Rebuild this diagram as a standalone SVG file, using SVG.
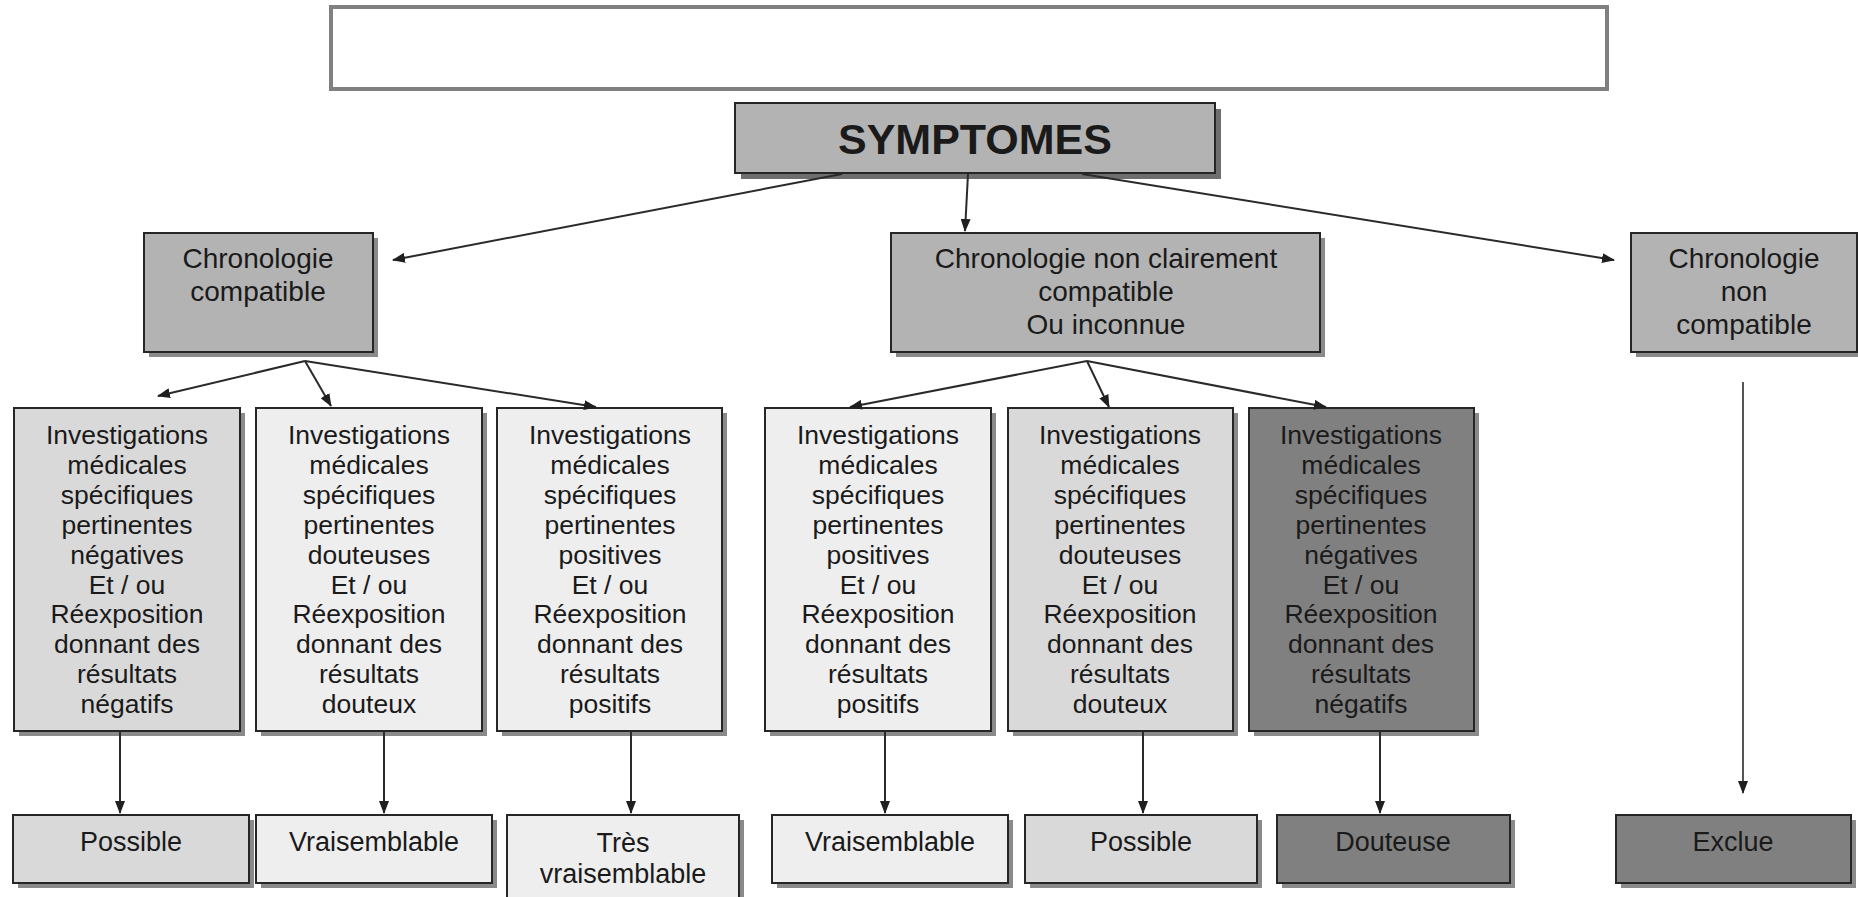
<svg xmlns="http://www.w3.org/2000/svg" width="1858" height="897" viewBox="0 0 1858 897">
<defs>
<marker id="arr" markerWidth="13" markerHeight="10" refX="12" refY="5" orient="auto" markerUnits="userSpaceOnUse">
<path d="M0,0 L13,5 L0,10 z" fill="#1f1f1f"/>
</marker>
</defs>
<style>
.box{stroke:#262626;stroke-width:2}
.sh{fill:#8a8a8a}
.c1{fill:#b3b3b3}
.c2{fill:#d9d9d9}
.c3{fill:#eeeeee}
.c4{fill:#808080}
text{font-family:"Liberation Sans",Arial,sans-serif;fill:#1a1a1a;text-anchor:middle}
.t1{font-size:43px;font-weight:bold}
.t2{font-size:28px}
.t3{font-size:26.5px}
.t4{font-size:27px}
.con{stroke:#2a2a2a;stroke-width:2;fill:none;marker-end:url(#arr)}
</style>
<rect width="1858" height="897" fill="#ffffff"/>

<g id="title-box">
<rect x="331" y="7" width="1276" height="82" fill="#ffffff" stroke="#808080" stroke-width="4"/>
</g>

<g id="symptomes">
<rect x="741" y="109" width="480" height="70" fill="#6e6e6e"/>
<rect x="735" y="103" width="480" height="70" class="box c1"/>
<text x="975" y="154" class="t1">SYMPTOMES</text>
</g>

<g id="chrono-compatible">
<rect x="149" y="238" width="229" height="119" class="sh"/>
<rect x="144" y="233" width="229" height="119" class="box c1"/>
<text x="258" y="268" class="t2">Chronologie</text>
<text x="258" y="301" class="t2">compatible</text>
</g>

<g id="chrono-incertaine">
<rect x="896" y="238" width="429" height="119" class="sh"/>
<rect x="891" y="233" width="429" height="119" class="box c1"/>
<text x="1106" y="268" class="t2">Chronologie non clairement</text>
<text x="1106" y="301" class="t2">compatible</text>
<text x="1106" y="334" class="t2">Ou inconnue</text>
</g>

<g id="chrono-non-compatible">
<rect x="1636" y="238" width="226" height="119" class="sh"/>
<rect x="1631" y="233" width="226" height="119" class="box c1"/>
<text x="1744" y="268" class="t2">Chronologie</text>
<text x="1744" y="301" class="t2">non</text>
<text x="1744" y="334" class="t2">compatible</text>
</g>

<g id="inv-1">
<rect x="19" y="413" width="226" height="323" class="sh"/>
<rect x="14" y="408" width="226" height="323" class="box c2"/>
<text class="t3"><tspan x="127" y="444">Investigations</tspan><tspan x="127" dy="29.9">médicales</tspan><tspan x="127" dy="29.9">spécifiques</tspan><tspan x="127" dy="29.9">pertinentes</tspan><tspan x="127" dy="29.9">négatives</tspan><tspan x="127" dy="29.9">Et / ou</tspan><tspan x="127" dy="29.9">Réexposition</tspan><tspan x="127" dy="29.9">donnant des</tspan><tspan x="127" dy="29.9">résultats</tspan><tspan x="127" dy="29.9">négatifs</tspan></text>
</g>

<g id="inv-2">
<rect x="261" y="413" width="226" height="323" class="sh"/>
<rect x="256" y="408" width="226" height="323" class="box c3"/>
<text class="t3"><tspan x="369" y="444">Investigations</tspan><tspan x="369" dy="29.9">médicales</tspan><tspan x="369" dy="29.9">spécifiques</tspan><tspan x="369" dy="29.9">pertinentes</tspan><tspan x="369" dy="29.9">douteuses</tspan><tspan x="369" dy="29.9">Et / ou</tspan><tspan x="369" dy="29.9">Réexposition</tspan><tspan x="369" dy="29.9">donnant des</tspan><tspan x="369" dy="29.9">résultats</tspan><tspan x="369" dy="29.9">douteux</tspan></text>
</g>

<g id="inv-3">
<rect x="502" y="413" width="225" height="323" class="sh"/>
<rect x="497" y="408" width="225" height="323" class="box c3"/>
<text class="t3"><tspan x="610" y="444">Investigations</tspan><tspan x="610" dy="29.9">médicales</tspan><tspan x="610" dy="29.9">spécifiques</tspan><tspan x="610" dy="29.9">pertinentes</tspan><tspan x="610" dy="29.9">positives</tspan><tspan x="610" dy="29.9">Et / ou</tspan><tspan x="610" dy="29.9">Réexposition</tspan><tspan x="610" dy="29.9">donnant des</tspan><tspan x="610" dy="29.9">résultats</tspan><tspan x="610" dy="29.9">positifs</tspan></text>
</g>

<g id="inv-4">
<rect x="770" y="413" width="226" height="323" class="sh"/>
<rect x="765" y="408" width="226" height="323" class="box c3"/>
<text class="t3"><tspan x="878" y="444">Investigations</tspan><tspan x="878" dy="29.9">médicales</tspan><tspan x="878" dy="29.9">spécifiques</tspan><tspan x="878" dy="29.9">pertinentes</tspan><tspan x="878" dy="29.9">positives</tspan><tspan x="878" dy="29.9">Et / ou</tspan><tspan x="878" dy="29.9">Réexposition</tspan><tspan x="878" dy="29.9">donnant des</tspan><tspan x="878" dy="29.9">résultats</tspan><tspan x="878" dy="29.9">positifs</tspan></text>
</g>

<g id="inv-5">
<rect x="1013" y="413" width="225" height="323" class="sh"/>
<rect x="1008" y="408" width="225" height="323" class="box c2"/>
<text class="t3"><tspan x="1120" y="444">Investigations</tspan><tspan x="1120" dy="29.9">médicales</tspan><tspan x="1120" dy="29.9">spécifiques</tspan><tspan x="1120" dy="29.9">pertinentes</tspan><tspan x="1120" dy="29.9">douteuses</tspan><tspan x="1120" dy="29.9">Et / ou</tspan><tspan x="1120" dy="29.9">Réexposition</tspan><tspan x="1120" dy="29.9">donnant des</tspan><tspan x="1120" dy="29.9">résultats</tspan><tspan x="1120" dy="29.9">douteux</tspan></text>
</g>

<g id="inv-6">
<rect x="1254" y="413" width="225" height="323" class="sh"/>
<rect x="1249" y="408" width="225" height="323" class="box c4"/>
<text class="t3"><tspan x="1361" y="444">Investigations</tspan><tspan x="1361" dy="29.9">médicales</tspan><tspan x="1361" dy="29.9">spécifiques</tspan><tspan x="1361" dy="29.9">pertinentes</tspan><tspan x="1361" dy="29.9">négatives</tspan><tspan x="1361" dy="29.9">Et / ou</tspan><tspan x="1361" dy="29.9">Réexposition</tspan><tspan x="1361" dy="29.9">donnant des</tspan><tspan x="1361" dy="29.9">résultats</tspan><tspan x="1361" dy="29.9">négatifs</tspan></text>
</g>

<g id="res-possible-1">
<rect x="18" y="820" width="236" height="68" class="sh"/>
<rect x="13" y="815" width="236" height="68" class="box c2"/>
<text x="131" y="851" class="t4">Possible</text>
</g>

<g id="res-vraisemblable-1">
<rect x="261" y="820" width="236" height="68" class="sh"/>
<rect x="256" y="815" width="236" height="68" class="box c3"/>
<text x="374" y="851" class="t4">Vraisemblable</text>
</g>

<g id="res-tres-vraisemblable">
<rect x="512" y="820" width="232" height="100" class="sh"/>
<rect x="507" y="815" width="232" height="100" class="box c3"/>
<text x="623" y="852" class="t4">Très</text>
<text x="623" y="883" class="t4">vraisemblable</text>
</g>

<g id="res-vraisemblable-2">
<rect x="777" y="820" width="236" height="68" class="sh"/>
<rect x="772" y="815" width="236" height="68" class="box c3"/>
<text x="890" y="851" class="t4">Vraisemblable</text>
</g>

<g id="res-possible-2">
<rect x="1030" y="820" width="232" height="68" class="sh"/>
<rect x="1025" y="815" width="232" height="68" class="box c2"/>
<text x="1141" y="851" class="t4">Possible</text>
</g>

<g id="res-douteuse">
<rect x="1282" y="820" width="233" height="68" class="sh"/>
<rect x="1277" y="815" width="233" height="68" class="box c4"/>
<text x="1393" y="851" class="t4">Douteuse</text>
</g>

<g id="res-exclue">
<rect x="1621" y="820" width="235" height="68" class="sh"/>
<rect x="1616" y="815" width="235" height="68" class="box c4"/>
<text x="1733" y="851" class="t4">Exclue</text>
</g>

<g id="connectors">
<path class="con" d="M842,174 L393,260"/>
<path class="con" d="M968,174 L965,231"/>
<path class="con" d="M1082,174 L1614,260"/>
<path class="con" d="M305,361 L158,396"/>
<path class="con" d="M305,361 L331,406"/>
<path class="con" d="M305,361 L596,407"/>
<path class="con" d="M1087,361 L850,407"/>
<path class="con" d="M1087,361 L1109,407"/>
<path class="con" d="M1087,361 L1326,407"/>
<path class="con" d="M120,731 L120,813"/>
<path class="con" d="M384,731 L384,813"/>
<path class="con" d="M631,731 L631,813"/>
<path class="con" d="M885,731 L885,813"/>
<path class="con" d="M1143,731 L1143,813"/>
<path class="con" d="M1380,731 L1380,813"/>
<path class="con" d="M1743,382 L1743,793" style="stroke:#555555"/>
</g>
</svg>
